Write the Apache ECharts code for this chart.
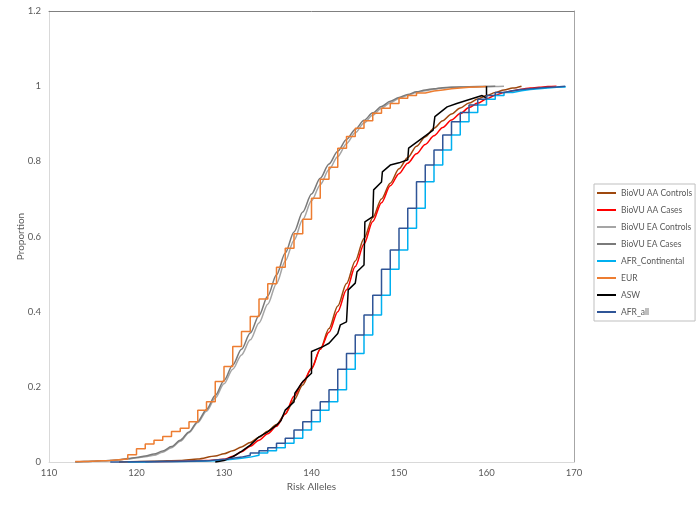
<!DOCTYPE html>
<html>
<head>
<meta charset="utf-8">
<title>Risk Alleles</title>
<script src="https://cdn.jsdelivr.net/npm/echarts@6.0.0/dist/echarts.min.js"></script>
<style>
  html, body { margin: 0; padding: 0; background: #fff; }
  #cdfChart { width: 700px; height: 508px; outline: 1px solid #d9d9d9; outline-offset: -1px; }
</style>
</head>
<body>
<div id="cdfChart"></div>
<script>
// axis ticks
const xTicks = [110, 120, 130, 140, 150, 160, 170];
const yTicks = [0, 0.2, 0.4, 0.6, 0.8, 1, 1.2];

const seriesNames = ['BioVU AA Controls', 'BioVU AA Cases', 'BioVU EA Controls', 'BioVU EA Cases',
  'AFR_Continental', 'EUR', 'ASW', 'AFR_all'];

// BioVU AA Controls
const aaControlsX = [118, 122, 125, 127, 129, 130, 131, 132, 133, 134, 135, 136, 137, 138, 139, 140, 141, 142, 143, 144,
  145, 146, 147, 148, 149, 150, 151, 152, 153, 154, 155, 156, 157, 158, 159, 160, 161, 162, 163, 164];
const aaControlsY = [0, 0.002, 0.004, 0.008, 0.016, 0.022, 0.03, 0.04, 0.052, 0.066, 0.082, 0.1, 0.128, 0.165, 0.205, 0.25,
  0.3, 0.355, 0.415, 0.475, 0.535, 0.595, 0.65, 0.7, 0.742, 0.78, 0.81, 0.84, 0.865, 0.888, 0.908, 0.926, 0.942, 0.955,
  0.966, 0.975, 0.983, 0.99, 0.995, 1];

// BioVU AA Cases
const aaCasesX = [121, 125, 128, 130, 131, 132, 133, 134, 135, 136, 137, 138, 139, 140, 141, 142, 143, 144, 145, 146,
  147, 148, 149, 150, 151, 152, 153, 154, 155, 156, 157, 158, 159, 160, 161, 162, 163, 164, 165, 166, 167, 168];
const aaCasesY = [0, 0.002, 0.004, 0.007, 0.015, 0.027, 0.042, 0.058, 0.075, 0.095, 0.128, 0.175, 0.212, 0.248, 0.3, 0.345,
  0.4, 0.458, 0.52, 0.58, 0.64, 0.69, 0.735, 0.767, 0.795, 0.82, 0.845, 0.868, 0.89, 0.91, 0.927, 0.943, 0.955, 0.966,
  0.976, 0.983, 0.988, 0.992, 0.995, 0.997, 0.999, 1];

// BioVU EA Controls
const eaControlsX = [113, 114, 115, 116, 117, 118, 119, 120, 121, 122, 123, 124, 125, 126, 127, 128, 129, 130, 131, 132,
  133, 134, 135, 136, 137, 138, 139, 140, 141, 142, 143, 144, 145, 146, 147, 148, 149, 150, 151, 152, 153, 154, 155, 156,
  158, 160, 162];
const eaControlsY = [0, 0.001, 0.002, 0.003, 0.004, 0.006, 0.008, 0.011, 0.014, 0.018, 0.026, 0.038, 0.055, 0.078, 0.105,
  0.135, 0.17, 0.208, 0.247, 0.285, 0.325, 0.37, 0.42, 0.475, 0.535, 0.59, 0.645, 0.695, 0.738, 0.778, 0.813, 0.847,
  0.876, 0.902, 0.923, 0.941, 0.956, 0.967, 0.976, 0.983, 0.988, 0.992, 0.995, 0.997, 0.998, 0.999, 1];

// BioVU EA Cases
const eaCasesX = [113, 114, 115, 116, 117, 118, 119, 120, 121, 122, 123, 124, 125, 126, 127, 128, 129, 130, 131, 132,
  133, 134, 135, 136, 137, 138, 139, 140, 141, 142, 143, 144, 145, 146, 147, 148, 149, 150, 151, 152, 153, 154, 155, 157,
  159, 161];
const eaCasesY = [0, 0.001, 0.002, 0.003, 0.004, 0.006, 0.009, 0.012, 0.016, 0.021, 0.029, 0.041, 0.058, 0.08, 0.108,
  0.14, 0.177, 0.217, 0.258, 0.3, 0.343, 0.39, 0.442, 0.498, 0.556, 0.612, 0.665, 0.713, 0.755, 0.793, 0.827, 0.858,
  0.885, 0.909, 0.929, 0.946, 0.96, 0.97, 0.978, 0.985, 0.99, 0.993, 0.996, 0.998, 0.999, 1];

// AFR_Continental (steps, one allele behind AFR_all)
const afrContX = [119, 121, 123, 125, 127, 129, 130, 131, 132, 133, 134, 135, 136, 137, 138, 139, 140, 141, 142, 143,
  144, 145, 146, 147, 148, 149, 150, 151, 152, 153, 154, 155, 156, 157, 158, 159, 160, 161, 162, 163, 164, 165, 166,
  167, 168, 169];
const afrContY = [0, 0.001, 0.001, 0.002, 0.003, 0.005, 0.007, 0.01, 0.013, 0.018, 0.024, 0.03, 0.038, 0.05, 0.063,
  0.085, 0.107, 0.138, 0.16, 0.192, 0.247, 0.289, 0.338, 0.391, 0.444, 0.513, 0.564, 0.622, 0.675, 0.746, 0.79, 0.83,
  0.87, 0.905, 0.93, 0.95, 0.965, 0.975, 0.983, 0.988, 0.991, 0.993, 0.995, 0.997, 0.998, 1];

// EUR (steps)
const eurX = [113, 114, 115, 116, 117, 118, 119, 120, 121, 122, 123, 124, 125, 126, 127, 128, 129, 130, 131, 132, 133,
  134, 135, 136, 137, 138, 139, 140, 141, 142, 143, 144, 145, 146, 147, 148, 149, 150, 151, 152, 153, 154, 155, 156,
  157, 158, 159, 160];
const eurY = [0.001, 0.002, 0.003, 0.004, 0.006, 0.008, 0.019, 0.035, 0.048, 0.058, 0.068, 0.081, 0.09, 0.107, 0.138,
  0.16, 0.214, 0.254, 0.307, 0.347, 0.387, 0.434, 0.474, 0.518, 0.569, 0.607, 0.646, 0.702, 0.752, 0.784, 0.835, 0.866,
  0.888, 0.908, 0.928, 0.941, 0.954, 0.968, 0.975, 0.982, 0.987, 0.99, 0.993, 0.995, 0.997, 0.998, 0.999, 1];

// ASW
const aswX = [129, 130, 131, 132, 133, 134, 135, 136, 136.5, 137, 138, 138.1, 139, 140, 140, 141.3, 142, 143, 143.3, 144,
  144.2, 145, 145.2, 146, 146.1, 147, 147.1, 148, 148.1, 149, 150, 151, 151.1, 153.9, 154.1, 155.5, 156.6, 159.5, 160, 160];
const aswY = [0, 0.004, 0.014, 0.028, 0.045, 0.067, 0.08, 0.098, 0.11, 0.138, 0.16, 0.183, 0.214, 0.236, 0.294, 0.307,
  0.316, 0.342, 0.365, 0.373, 0.458, 0.476, 0.506, 0.524, 0.639, 0.653, 0.724, 0.745, 0.772, 0.79, 0.796, 0.804, 0.835,
  0.883, 0.919, 0.945, 0.954, 0.975, 0.968, 1];

// AFR_all (steps)
const afrAllX = [117, 118, 120, 122, 124, 126, 128, 129, 130, 131, 132, 133, 134, 135, 136, 137, 138, 139, 140, 141, 142,
  143, 144, 145, 146, 147, 148, 149, 150, 151, 152, 153, 154, 155, 156, 157, 158, 159, 160, 161, 162, 163, 164, 165,
  166, 167, 168, 169];
const afrAllY = [0, 0.0005, 0.001, 0.001, 0.002, 0.003, 0.005, 0.007, 0.01, 0.013, 0.018, 0.024, 0.03, 0.038, 0.05,
  0.063, 0.085, 0.107, 0.138, 0.16, 0.192, 0.247, 0.289, 0.338, 0.391, 0.444, 0.513, 0.564, 0.622, 0.675, 0.746, 0.79,
  0.83, 0.87, 0.905, 0.93, 0.95, 0.965, 0.975, 0.983, 0.988, 0.991, 0.993, 0.995, 0.997, 0.998, 1, 1];

const colors = ['#9e480e', '#ff0000', '#a5a5a5', '#7a7a7a', '#00b0f0', '#ed7d31', '#000000', '#2f5597'];
const fontName = 'Lato, "Open Sans", sans-serif';

function pairs(xs, ys) {
  return xs.map((x, i) => [x, ys[i]]);
}

function makeSeries(idx, xs, ys, extra) {
  return Object.assign({
    name: seriesNames[idx],
    type: 'line',
    data: pairs(xs, ys),
    symbol: 'none',
    clip: false,
    lineStyle: { width: 1.5, color: colors[idx] },
    itemStyle: { color: colors[idx] },
  }, extra || {});
}

const myChart = echarts.init(document.getElementById('cdfChart'));
myChart.setOption({
  backgroundColor: '#fff',
  animation: false,
  textStyle: { fontFamily: fontName },
  grid: { left: 49, right: 126, top: 11, bottom: 46 },
  legend: {
    orient: 'vertical',
    left: 594,
    top: 184,
    padding: [3, 3, 3, 3],
    itemWidth: 19,
    itemHeight: 2,
    itemGap: 5,
    icon: 'rect',
    borderColor: '#bfbfbf',
    borderWidth: 1,
    textStyle: { fontSize: 8.5, color: '#595959', fontFamily: fontName, lineHeight: 12 },
    data: seriesNames,
  },
  xAxis: [
    {
      type: 'value',
      min: xTicks[0],
      max: xTicks[xTicks.length - 1],
      interval: 10,
      name: 'Risk Alleles',
      nameLocation: 'middle',
      nameGap: 20,
      nameMoveOverlap: false,
      nameTextStyle: { color: '#595959', fontSize: 10 },
      axisLine: { show: true, onZero: false, lineStyle: { color: '#d9d9d9' } },
      axisTick: { show: false },
      axisLabel: { color: '#595959', fontSize: 9.5, margin: 6 },
      splitLine: { show: false },
    },
    {
      type: 'value',
      position: 'top',
      min: xTicks[0],
      max: xTicks[xTicks.length - 1],
      axisLine: { show: true, onZero: false, lineStyle: { color: '#808080' } },
      axisTick: { show: false },
      axisLabel: { show: false },
      splitLine: { show: false },
    },
  ],
  yAxis: [
    {
      type: 'value',
      min: yTicks[0],
      max: yTicks[yTicks.length - 1],
      interval: 0.2,
      name: 'Proportion',
      nameLocation: 'middle',
      nameGap: 23,
      nameMoveOverlap: false,
      nameTextStyle: { color: '#595959', fontSize: 10 },
      axisLine: { show: true, onZero: false, lineStyle: { color: '#d9d9d9' } },
      axisTick: { show: false },
      axisLabel: { color: '#595959', fontSize: 9.5, margin: 8 },
      splitLine: { show: false },
    },
    {
      type: 'value',
      position: 'right',
      min: yTicks[0],
      max: yTicks[yTicks.length - 1],
      axisLine: { show: true, onZero: false, lineStyle: { color: '#a6a6a6' } },
      axisTick: { show: false },
      axisLabel: { show: false },
      splitLine: { show: false },
    },
  ],
  series: [
    makeSeries(0, aaControlsX, aaControlsY, { smooth: 0.3, smoothMonotone: 'x' }),
    makeSeries(1, aaCasesX, aaCasesY, { smooth: 0.3, smoothMonotone: 'x' }),
    makeSeries(2, eaControlsX, eaControlsY, { smooth: 0.3, smoothMonotone: 'x' }),
    makeSeries(3, eaCasesX, eaCasesY, { smooth: 0.3, smoothMonotone: 'x' }),
    makeSeries(4, afrContX, afrContY, { step: 'end' }),
    makeSeries(5, eurX, eurY, { step: 'end' }),
    makeSeries(6, aswX, aswY),
    makeSeries(7, afrAllX, afrAllY, { step: 'end' }),
  ],
});
</script>
</body>
</html>
